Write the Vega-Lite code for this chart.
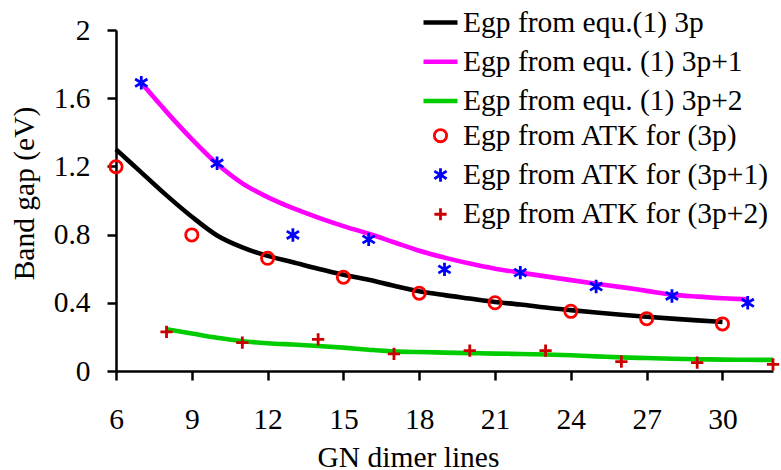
{
  "$schema": "https://vega.github.io/schema/vega-lite/v6.json",
  "width": 657,
  "height": 341,
  "autosize": {"type": "none"},
  "padding": {"left": 116, "top": 30, "right": 8, "bottom": 99},
  "background": "white",
  "config": {
    "view": {"stroke": null},
    "font": "Liberation Serif",
    "axis": {"grid": false, "domainColor": "black", "tickColor": "black", "domainWidth": 2.5, "tickWidth": 2.5, "tickSize": 9, "labelColor": "black", "titleColor": "black", "labelFont": "Liberation Serif", "titleFont": "Liberation Serif", "labelFontSize": 29.5, "titleFontSize": 29.5, "titleFontWeight": "normal"},
    "legend": {"labelFont": "Liberation Serif", "labelFontSize": 29.5, "labelColor": "black", "labelLimit": 500}
  },
  "datasets": {
    "series": [
      {"kind": "line", "series": "Egp from equ.(1) 3p", "n": 6, "gap": 1.30},
      {"kind": "line", "series": "Egp from equ.(1) 3p", "n": 7, "gap": 1.165},
      {"kind": "line", "series": "Egp from equ.(1) 3p", "n": 8, "gap": 1.03},
      {"kind": "line", "series": "Egp from equ.(1) 3p", "n": 9, "gap": 0.905},
      {"kind": "line", "series": "Egp from equ.(1) 3p", "n": 10, "gap": 0.795},
      {"kind": "line", "series": "Egp from equ.(1) 3p", "n": 11, "gap": 0.725},
      {"kind": "line", "series": "Egp from equ.(1) 3p", "n": 12, "gap": 0.675},
      {"kind": "line", "series": "Egp from equ.(1) 3p", "n": 13, "gap": 0.638},
      {"kind": "line", "series": "Egp from equ.(1) 3p", "n": 14, "gap": 0.60},
      {"kind": "line", "series": "Egp from equ.(1) 3p", "n": 15, "gap": 0.565},
      {"kind": "line", "series": "Egp from equ.(1) 3p", "n": 16, "gap": 0.535},
      {"kind": "line", "series": "Egp from equ.(1) 3p", "n": 17, "gap": 0.50},
      {"kind": "line", "series": "Egp from equ.(1) 3p", "n": 18, "gap": 0.468},
      {"kind": "line", "series": "Egp from equ.(1) 3p", "n": 19, "gap": 0.445},
      {"kind": "line", "series": "Egp from equ.(1) 3p", "n": 20, "gap": 0.425},
      {"kind": "line", "series": "Egp from equ.(1) 3p", "n": 21, "gap": 0.405},
      {"kind": "line", "series": "Egp from equ.(1) 3p", "n": 22, "gap": 0.39},
      {"kind": "line", "series": "Egp from equ.(1) 3p", "n": 23, "gap": 0.372},
      {"kind": "line", "series": "Egp from equ.(1) 3p", "n": 24, "gap": 0.357},
      {"kind": "line", "series": "Egp from equ.(1) 3p", "n": 25, "gap": 0.343},
      {"kind": "line", "series": "Egp from equ.(1) 3p", "n": 26, "gap": 0.33},
      {"kind": "line", "series": "Egp from equ.(1) 3p", "n": 27, "gap": 0.318},
      {"kind": "line", "series": "Egp from equ.(1) 3p", "n": 28, "gap": 0.307},
      {"kind": "line", "series": "Egp from equ.(1) 3p", "n": 29, "gap": 0.297},
      {"kind": "line", "series": "Egp from equ.(1) 3p", "n": 30, "gap": 0.288},

      {"kind": "line", "series": "Egp from equ. (1) 3p+1", "n": 7, "gap": 1.69},
      {"kind": "line", "series": "Egp from equ. (1) 3p+1", "n": 8, "gap": 1.52},
      {"kind": "line", "series": "Egp from equ. (1) 3p+1", "n": 9, "gap": 1.36},
      {"kind": "line", "series": "Egp from equ. (1) 3p+1", "n": 10, "gap": 1.215},
      {"kind": "line", "series": "Egp from equ. (1) 3p+1", "n": 11, "gap": 1.10},
      {"kind": "line", "series": "Egp from equ. (1) 3p+1", "n": 12, "gap": 1.02},
      {"kind": "line", "series": "Egp from equ. (1) 3p+1", "n": 13, "gap": 0.955},
      {"kind": "line", "series": "Egp from equ. (1) 3p+1", "n": 14, "gap": 0.90},
      {"kind": "line", "series": "Egp from equ. (1) 3p+1", "n": 15, "gap": 0.85},
      {"kind": "line", "series": "Egp from equ. (1) 3p+1", "n": 16, "gap": 0.805},
      {"kind": "line", "series": "Egp from equ. (1) 3p+1", "n": 17, "gap": 0.755},
      {"kind": "line", "series": "Egp from equ. (1) 3p+1", "n": 18, "gap": 0.705},
      {"kind": "line", "series": "Egp from equ. (1) 3p+1", "n": 19, "gap": 0.665},
      {"kind": "line", "series": "Egp from equ. (1) 3p+1", "n": 20, "gap": 0.63},
      {"kind": "line", "series": "Egp from equ. (1) 3p+1", "n": 21, "gap": 0.60},
      {"kind": "line", "series": "Egp from equ. (1) 3p+1", "n": 22, "gap": 0.577},
      {"kind": "line", "series": "Egp from equ. (1) 3p+1", "n": 23, "gap": 0.555},
      {"kind": "line", "series": "Egp from equ. (1) 3p+1", "n": 24, "gap": 0.533},
      {"kind": "line", "series": "Egp from equ. (1) 3p+1", "n": 25, "gap": 0.512},
      {"kind": "line", "series": "Egp from equ. (1) 3p+1", "n": 26, "gap": 0.492},
      {"kind": "line", "series": "Egp from equ. (1) 3p+1", "n": 27, "gap": 0.47},
      {"kind": "line", "series": "Egp from equ. (1) 3p+1", "n": 28, "gap": 0.448},
      {"kind": "line", "series": "Egp from equ. (1) 3p+1", "n": 29, "gap": 0.436},
      {"kind": "line", "series": "Egp from equ. (1) 3p+1", "n": 30, "gap": 0.427},
      {"kind": "line", "series": "Egp from equ. (1) 3p+1", "n": 31, "gap": 0.42},

      {"kind": "line", "series": "Egp from equ. (1) 3p+2", "n": 8, "gap": 0.245},
      {"kind": "line", "series": "Egp from equ. (1) 3p+2", "n": 9, "gap": 0.22},
      {"kind": "line", "series": "Egp from equ. (1) 3p+2", "n": 10, "gap": 0.195},
      {"kind": "line", "series": "Egp from equ. (1) 3p+2", "n": 11, "gap": 0.175},
      {"kind": "line", "series": "Egp from equ. (1) 3p+2", "n": 12, "gap": 0.163},
      {"kind": "line", "series": "Egp from equ. (1) 3p+2", "n": 13, "gap": 0.155},
      {"kind": "line", "series": "Egp from equ. (1) 3p+2", "n": 14, "gap": 0.147},
      {"kind": "line", "series": "Egp from equ. (1) 3p+2", "n": 15, "gap": 0.137},
      {"kind": "line", "series": "Egp from equ. (1) 3p+2", "n": 16, "gap": 0.125},
      {"kind": "line", "series": "Egp from equ. (1) 3p+2", "n": 17, "gap": 0.115},
      {"kind": "line", "series": "Egp from equ. (1) 3p+2", "n": 18, "gap": 0.111},
      {"kind": "line", "series": "Egp from equ. (1) 3p+2", "n": 19, "gap": 0.108},
      {"kind": "line", "series": "Egp from equ. (1) 3p+2", "n": 20, "gap": 0.105},
      {"kind": "line", "series": "Egp from equ. (1) 3p+2", "n": 21, "gap": 0.102},
      {"kind": "line", "series": "Egp from equ. (1) 3p+2", "n": 22, "gap": 0.10},
      {"kind": "line", "series": "Egp from equ. (1) 3p+2", "n": 23, "gap": 0.097},
      {"kind": "line", "series": "Egp from equ. (1) 3p+2", "n": 24, "gap": 0.092},
      {"kind": "line", "series": "Egp from equ. (1) 3p+2", "n": 25, "gap": 0.086},
      {"kind": "line", "series": "Egp from equ. (1) 3p+2", "n": 26, "gap": 0.08},
      {"kind": "line", "series": "Egp from equ. (1) 3p+2", "n": 27, "gap": 0.076},
      {"kind": "line", "series": "Egp from equ. (1) 3p+2", "n": 28, "gap": 0.072},
      {"kind": "line", "series": "Egp from equ. (1) 3p+2", "n": 29, "gap": 0.069},
      {"kind": "line", "series": "Egp from equ. (1) 3p+2", "n": 30, "gap": 0.067},
      {"kind": "line", "series": "Egp from equ. (1) 3p+2", "n": 31, "gap": 0.066},
      {"kind": "line", "series": "Egp from equ. (1) 3p+2", "n": 32, "gap": 0.065},

      {"kind": "point", "series": "Egp from ATK for (3p)", "n": 6, "gap": 1.198},
      {"kind": "point", "series": "Egp from ATK for (3p)", "n": 9, "gap": 0.798},
      {"kind": "point", "series": "Egp from ATK for (3p)", "n": 12, "gap": 0.661},
      {"kind": "point", "series": "Egp from ATK for (3p)", "n": 15, "gap": 0.55},
      {"kind": "point", "series": "Egp from ATK for (3p)", "n": 18, "gap": 0.456},
      {"kind": "point", "series": "Egp from ATK for (3p)", "n": 21, "gap": 0.40},
      {"kind": "point", "series": "Egp from ATK for (3p)", "n": 24, "gap": 0.35},
      {"kind": "point", "series": "Egp from ATK for (3p)", "n": 27, "gap": 0.307},
      {"kind": "point", "series": "Egp from ATK for (3p)", "n": 30, "gap": 0.276},

      {"kind": "point", "series": "Egp from ATK for (3p+1)", "n": 7, "gap": 1.69},
      {"kind": "point", "series": "Egp from ATK for (3p+1)", "n": 10, "gap": 1.218},
      {"kind": "point", "series": "Egp from ATK for (3p+1)", "n": 13, "gap": 0.798},
      {"kind": "point", "series": "Egp from ATK for (3p+1)", "n": 16, "gap": 0.772},
      {"kind": "point", "series": "Egp from ATK for (3p+1)", "n": 19, "gap": 0.596},
      {"kind": "point", "series": "Egp from ATK for (3p+1)", "n": 22, "gap": 0.577},
      {"kind": "point", "series": "Egp from ATK for (3p+1)", "n": 25, "gap": 0.495},
      {"kind": "point", "series": "Egp from ATK for (3p+1)", "n": 28, "gap": 0.44},
      {"kind": "point", "series": "Egp from ATK for (3p+1)", "n": 31, "gap": 0.40},

      {"kind": "point", "series": "Egp from ATK for (3p+2)", "n": 8, "gap": 0.23},
      {"kind": "point", "series": "Egp from ATK for (3p+2)", "n": 11, "gap": 0.166},
      {"kind": "point", "series": "Egp from ATK for (3p+2)", "n": 14, "gap": 0.186},
      {"kind": "point", "series": "Egp from ATK for (3p+2)", "n": 17, "gap": 0.10},
      {"kind": "point", "series": "Egp from ATK for (3p+2)", "n": 20, "gap": 0.119},
      {"kind": "point", "series": "Egp from ATK for (3p+2)", "n": 23, "gap": 0.119},
      {"kind": "point", "series": "Egp from ATK for (3p+2)", "n": 26, "gap": 0.055},
      {"kind": "point", "series": "Egp from ATK for (3p+2)", "n": 29, "gap": 0.049},
      {"kind": "point", "series": "Egp from ATK for (3p+2)", "n": 32, "gap": 0.039}
    ]
  },
  "data": {"name": "series"},
  "encoding": {
    "x": {"field": "n", "type": "quantitative", "scale": {"domain": [6, 32], "nice": false, "zero": false},
      "axis": {"values": [6, 9, 12, 15, 18, 21, 24, 27, 30], "title": "GN dimer lines", "labelPadding": 25, "labelFlush": false,
        "titleX": 292, "titleY": 95, "titleBaseline": "alphabetic", "titleAlign": "center"}},
    "y": {"field": "gap", "type": "quantitative", "scale": {"domain": [0, 2], "nice": false},
      "axis": {"values": [0, 0.4, 0.8, 1.2, 1.6, 2], "format": ".1~f", "title": "Band gap (eV)", "labelPadding": 17, "labelFlush": false,
        "titleX": -83, "titleY": 163, "titleBaseline": "alphabetic", "titleAlign": "center", "titleAngle": -90}}
  },
  "layer": [
    {
      "transform": [{"filter": "datum.kind === 'line'"}],
      "mark": {"type": "line", "interpolate": "monotone", "strokeCap": "butt", "strokeWidth": 4.6},
      "encoding": {
        "stroke": {"field": "series", "type": "nominal", "legend": null,
          "scale": {"domain": ["Egp from equ.(1) 3p", "Egp from equ. (1) 3p+1", "Egp from equ. (1) 3p+2"], "range": ["#000000", "#ff00ff", "#00cc00"]}}
      }
    },
    {
      "transform": [{"filter": "datum.kind === 'point'"}],
      "mark": {"type": "point", "filled": false, "opacity": 1},
      "encoding": {
        "color": {"field": "series", "type": "nominal",
          "scale": {
            "domain": ["Egp from equ.(1) 3p", "Egp from equ. (1) 3p+1", "Egp from equ. (1) 3p+2", "Egp from ATK for (3p)", "Egp from ATK for (3p+1)", "Egp from ATK for (3p+2)"],
            "range": ["#000000", "#ff00ff", "#00cc00", "#ff0000", "#0000ff", "#cc0000"]
          },
          "legend": {"title": null, "orient": "none", "legendX": 305, "legendY": -27, "padding": 0, "labelOffset": 3, "rowPadding": 4.3, "gridAlign": "all", "symbolFillColor": "transparent"}
        },
        "shape": {"field": "series", "type": "nominal",
          "scale": {
            "domain": ["Egp from equ.(1) 3p", "Egp from equ. (1) 3p+1", "Egp from equ. (1) 3p+2", "Egp from ATK for (3p)", "Egp from ATK for (3p+1)", "Egp from ATK for (3p+2)"],
            "range": ["stroke", "stroke", "stroke", "circle", "M0,-1.1L0,1.1M-1,-0.62L1,0.62M-1,0.62L1,-0.62", "M-1,0L1,0M0,-1L0,1"]
          },
          "legend": {"title": null, "orient": "none", "legendX": 305, "legendY": -27, "padding": 0, "labelOffset": 3, "rowPadding": 4.3, "gridAlign": "all", "symbolFillColor": "transparent"}
        },
        "size": {"field": "series", "type": "nominal",
          "scale": {
            "type": "ordinal",
            "domain": ["Egp from equ.(1) 3p", "Egp from equ. (1) 3p+1", "Egp from equ. (1) 3p+2", "Egp from ATK for (3p)", "Egp from ATK for (3p+1)", "Egp from ATK for (3p+2)"],
            "range": [1156, 1156, 1156, 150, 150, 150]
          },
          "legend": {"title": null, "orient": "none", "legendX": 305, "legendY": -27, "padding": 0, "labelOffset": 3, "rowPadding": 4.3, "gridAlign": "all", "symbolFillColor": "transparent"}
        },
        "strokeWidth": {"field": "series", "type": "nominal",
          "scale": {
            "type": "ordinal",
            "domain": ["Egp from equ.(1) 3p", "Egp from equ. (1) 3p+1", "Egp from equ. (1) 3p+2", "Egp from ATK for (3p)", "Egp from ATK for (3p+1)", "Egp from ATK for (3p+2)"],
            "range": [4.5, 4.5, 4.5, 2.8, 2.8, 2.8]
          },
          "legend": {"title": null, "orient": "none", "legendX": 305, "legendY": -27, "padding": 0, "labelOffset": 3, "rowPadding": 4.3, "gridAlign": "all", "symbolFillColor": "transparent"}
        }
      }
    }
  ]
}
